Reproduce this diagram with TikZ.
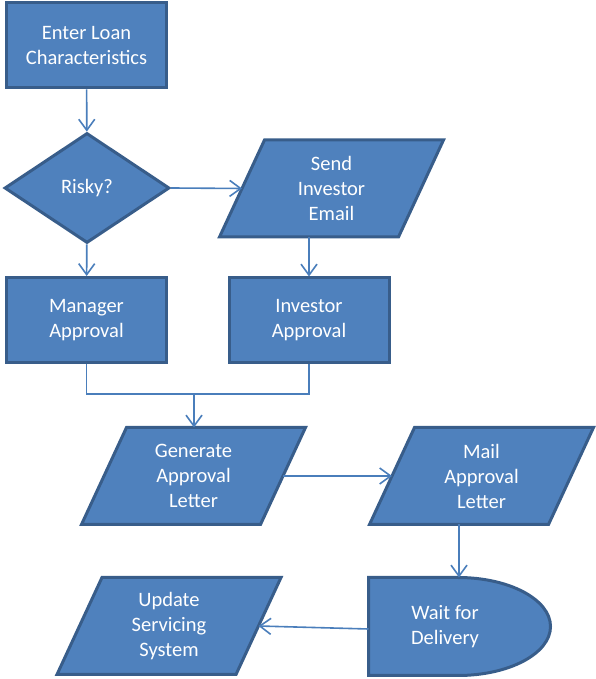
\documentclass[tikz,border=0pt]{standalone}
\usepackage{fontspec}
\setmainfont{Carlito}
\usetikzlibrary{shapes.geometric,arrows.meta}

\definecolor{boxfill}{HTML}{4F81BD}
\definecolor{boxline}{HTML}{385D8A}
\definecolor{linkcol}{HTML}{4A7EBB}

\begin{document}
\begin{tikzpicture}[x=1pt, y=1pt,
    box/.style={draw=boxline, fill=boxfill, line width=3pt, text=white, align=center,
      font=\fontsize{20.5}{25}\selectfont, inner sep=0pt},
    boxtext/.style={text=white, align=center, font=\fontsize{20.5}{25}\selectfont, inner sep=0pt},
    procbox/.style={box, rectangle, minimum width=160pt, minimum height=85pt},
    decbox/.style={box, diamond, minimum width=165pt, minimum height=110pt},
    link/.style={draw=linkcol, line width=1.6pt, -{Straight Barb[length=11pt,width=16pt]}},
    joinline/.style={draw=linkcol, line width=1.6pt}]
    \useasboundingbox (0,0) rectangle (596,679);

    \node[procbox] (load) at (86.5,633.5) {Enter Loan\\Characteristics};
    \node[decbox] (risky) at (87,491) {Risky?};
    \node[procbox] (manager) at (86.5,359) {Manager\\Approval};
    \node[procbox] (investor) at (309,358.5) {Investor\\Approval};

    \foreach \n/\cx/\cy/\txt in {email/331.5/490.5/{Send\\Investor\\Email},
        letter/193.5/203/{Generate\\Approval\\Letter},
        mail/481.5/203/{Mail\\Approval\\Letter},
        update/169/53/{Update\\Servicing\\System}} {
      \draw[box] (\cx-112,\cy-48.5) -- ++(179,0) -- ++(45,97) -- ++(-179,0) -- cycle;
      \node[boxtext] (\n) at (\cx,\cy) {\txt};
      \coordinate (\n-w) at (\cx-89.5,\cy);
      \coordinate (\n-e) at (\cx+89.5,\cy);
      \coordinate (\n-n) at (\cx,\cy+48.5);
      \coordinate (\n-s) at (\cx-22.5,\cy-48.5);
    }

    \coordinate (waittop) at (458,101.5);
    \coordinate (waitwest) at (368.5,50);
    \draw[box] (368.5,101.5) -- (waittop)
      arc[start angle=90, end angle=-90, x radius=92.5, y radius=49]
      -- (368.5,3.5) -- cycle;
    \node[boxtext] (wait) at (445,52.5) {Wait for\\Delivery};

    \coordinate (merge) at (194,285);
    \draw[link] (load) -- (risky);
    \draw[link] (risky.east) -- (email-w);
    \draw[link] (risky) -- (manager);
    \draw[link] (email-s) -- (email-s |- investor.north);
    \draw[joinline] (manager.south) |- (merge) -| (investor.south);
    \draw[link] (merge) -- (merge |- letter-n);
    \draw[link] (letter-e) -- (mail-w);
    \draw[link] (mail-s) -- (mail-s |- waittop);
    \draw[link] (waitwest) -- (update-e);
  \end{tikzpicture}
\end{document}
